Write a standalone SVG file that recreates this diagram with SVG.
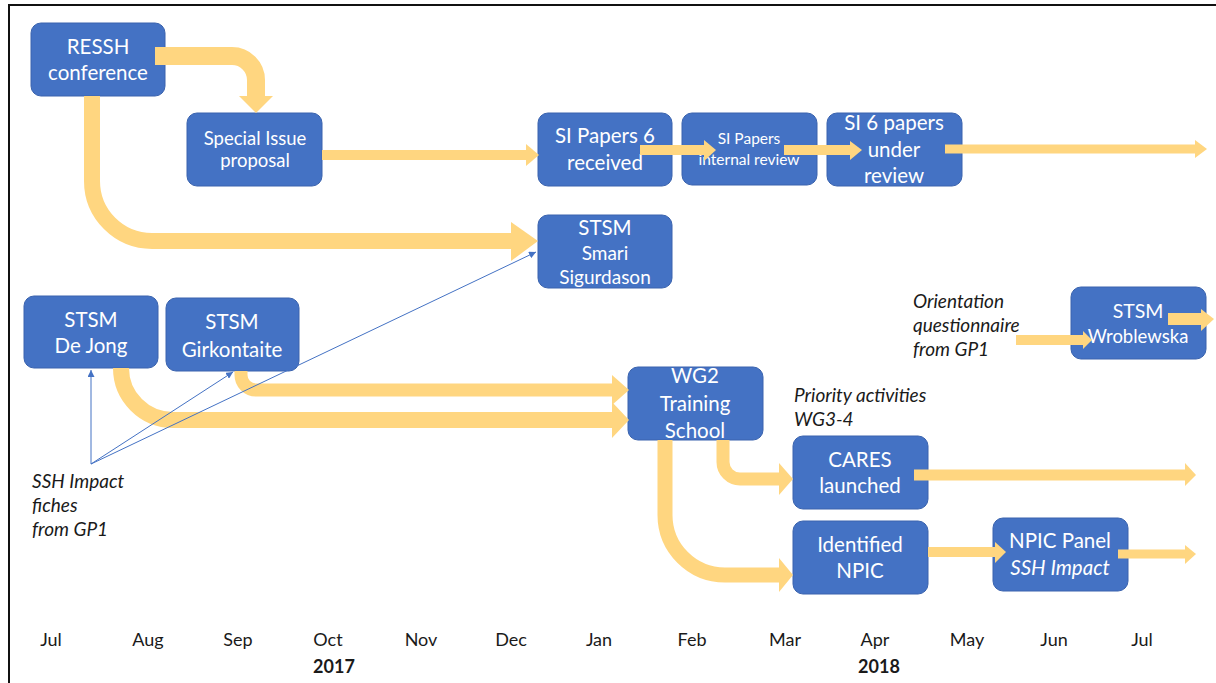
<svg xmlns="http://www.w3.org/2000/svg" width="1216" height="683" viewBox="0 0 1216 683">
<style>
.box{fill:#4472C4;stroke:#3A63AE;stroke-width:1}
.t{font-family:Lato,"Liberation Sans",sans-serif;fill:#fff;text-anchor:middle;font-size:20.5px}
.lab{font-family:Lato,"Liberation Sans",sans-serif;fill:#1a1a1a;font-style:italic;font-size:19px}
.mon{font-family:Lato,"Liberation Sans",sans-serif;fill:#1a1a1a;font-size:18px;text-anchor:middle}
.yr{font-family:Lato,"Liberation Sans",sans-serif;fill:#1a1a1a;font-size:18px;font-weight:bold;text-anchor:middle}
.fat{fill:none;stroke:#FFD680}
.hd{fill:#FFD680}
.thin{fill:none;stroke:#4472C4;stroke-width:1}
</style>
<defs>
<marker id="ah" viewBox="0 0 10 10" refX="10" refY="5" markerWidth="7" markerHeight="7" markerUnits="userSpaceOnUse" orient="auto">
<path d="M0,0 L10,5 L0,10 z" fill="#4472C4"/>
</marker>
</defs>
<rect x="0" y="0" width="1216" height="683" fill="#fff"/>
<g id="frame"><path d="M9,683 V5 H1216" fill="none" stroke="#111" stroke-width="2"/></g>

<g id="n-ressh"><rect class="box" x="31" y="23" width="134" height="73" rx="10"/><text class="t" x="98" y="54">RESSH</text><text class="t" x="98" y="80">conference</text></g>
<g id="n-si-proposal"><rect class="box" x="187" y="113" width="135" height="73" rx="10"/><text class="t" x="255" y="145" style="font-size:18.5px">Special Issue</text><text class="t" x="255" y="167" style="font-size:18.5px">proposal</text></g>
<g id="n-si-received"><rect class="box" x="538" y="113" width="134" height="73" rx="10"/><text class="t" x="605" y="143">SI Papers 6</text><text class="t" x="605" y="170">received</text></g>
<g id="n-si-internal"><rect class="box" x="682" y="113" width="135" height="72" rx="10"/><text class="t" x="749" y="144" style="font-size:15.5px">SI Papers</text><text class="t" x="749" y="165" style="font-size:15.5px">internal review</text></g>
<g id="n-si-under"><rect class="box" x="827" y="113" width="135" height="73" rx="10"/><text class="t" x="894" y="130">SI 6 papers</text><text class="t" x="894" y="157">under</text><text class="t" x="894" y="183">review</text></g>
<g id="n-smari"><rect class="box" x="538" y="215" width="134" height="73" rx="10"/><text class="t" x="605" y="235">STSM</text><text class="t" x="605" y="260" style="font-size:19px">Smari</text><text class="t" x="605" y="284" style="font-size:19px">Sigurdason</text></g>
<g id="n-dejong"><rect class="box" x="24" y="296" width="134" height="72" rx="10"/><text class="t" x="91" y="327">STSM</text><text class="t" x="91" y="353">De Jong</text></g>
<g id="n-girk"><rect class="box" x="166" y="298" width="133" height="73" rx="10"/><text class="t" x="232" y="329">STSM</text><text class="t" x="232" y="357">Girkontaite</text></g>
<g id="n-wg2"><rect class="box" x="628" y="367" width="135" height="73" rx="10"/><text class="t" x="695" y="383">WG2</text><text class="t" x="695" y="411">Training</text><text class="t" x="695" y="438">School</text></g>
<g id="n-wrob"><rect class="box" x="1071" y="287" width="135" height="72" rx="10"/><text class="t" x="1138" y="318" style="font-size:19.5px">STSM</text><text class="t" x="1138" y="343" style="font-size:18.5px">Wroblewska</text></g>
<g id="n-cares"><rect class="box" x="793" y="436" width="135" height="73" rx="10"/><text class="t" x="860" y="467">CARES</text><text class="t" x="860" y="493">launched</text></g>
<g id="n-npic"><rect class="box" x="793" y="521" width="135" height="73" rx="10"/><text class="t" x="860" y="552">Identified</text><text class="t" x="860" y="578">NPIC</text></g>
<g id="n-panel"><rect class="box" x="993" y="518" width="135" height="73" rx="10"/><text class="t" x="1060" y="548">NPIC Panel</text><text class="t" x="1060" y="575" font-style="italic">SSH Impact</text></g>

<g id="labels">
<text class="lab" x="32" y="488">SSH Impact</text><text class="lab" x="32" y="512">fiches</text><text class="lab" x="32" y="536">from GP1</text>
<text class="lab" x="913" y="308">Orientation</text><text class="lab" x="913" y="332">questionnaire</text><text class="lab" x="913" y="356">from GP1</text>
<text class="lab" x="794" y="402">Priority activities</text><text class="lab" x="794" y="426">WG3-4</text>
</g>

<g id="axis">
<text class="mon" x="51" y="646">Jul</text><text class="mon" x="148" y="646">Aug</text><text class="mon" x="238" y="646">Sep</text><text class="mon" x="328" y="646">Oct</text><text class="mon" x="421" y="646">Nov</text><text class="mon" x="511" y="646">Dec</text><text class="mon" x="599" y="646">Jan</text><text class="mon" x="692" y="646">Feb</text><text class="mon" x="785" y="646">Mar</text><text class="mon" x="875" y="646">Apr</text><text class="mon" x="967" y="646">May</text><text class="mon" x="1054" y="646">Jun</text><text class="mon" x="1142" y="646">Jul</text>
<text class="yr" x="334" y="673">2017</text><text class="yr" x="879" y="673">2018</text>
</g>

<g id="connectors">
<path class="fat" stroke-width="18" d="M155,56 H232 A24,24 0 0 1 256,80 V97"/><polygon class="hd" points="239,96 273,96 256,113"/>
<path class="fat" stroke-width="16" d="M92,96 V181 A60,60 0 0 0 152,241 H512"/><polygon class="hd" points="511,222 538,241 511,261"/>
<path class="fat" stroke-width="10" d="M322,155 H527"/><polygon class="hd" points="526,144 539,155 526,166"/>
<path class="fat" stroke-width="10" d="M640,150 H705"/><polygon class="hd" points="704,140 716,150 704,161"/>
<path class="fat" stroke-width="10" d="M784,150 H851"/><polygon class="hd" points="850,141 862,150 850,160"/>
<path class="fat" stroke-width="9" d="M945,149 H1196"/><polygon class="hd" points="1195,140 1207,149 1195,158"/>
<path class="fat" stroke-width="16" d="M121,368 A52,52 0 0 0 173,420 H613"/><polygon class="hd" points="612,402 629,420 612,438"/>
<path class="fat" stroke-width="13" d="M241,371 V375 A15,15 0 0 0 256,390 H613"/><polygon class="hd" points="612,375 629,390 612,405"/>
<path class="fat" stroke-width="13" d="M723,440 V462 A17,17 0 0 0 740,479 H780"/><polygon class="hd" points="779,463 793,479 779,495"/>
<path class="fat" stroke-width="15" d="M665,440 V515 A60,60 0 0 0 725,575 H780"/><polygon class="hd" points="779,558 793,575 779,592"/>
<path class="fat" stroke-width="11" d="M914,475 H1186"/><polygon class="hd" points="1185,463 1196,475 1185,486"/>
<path class="fat" stroke-width="10" d="M928,552 H996"/><polygon class="hd" points="995,542 1006,552 995,563"/>
<path class="fat" stroke-width="9" d="M1118,554 H1186"/><polygon class="hd" points="1185,545 1196,554 1185,564"/>
<path class="fat" stroke-width="10" d="M1016,340 H1084"/><polygon class="hd" points="1083,331 1092,340 1083,349"/>
<path class="fat" stroke-width="12" d="M1168,319 H1202"/><polygon class="hd" points="1201,309 1214,319 1201,331"/>
<path class="thin" d="M91,464 L91,370" marker-end="url(#ah)"/>
<path class="thin" d="M91,464 L233,372" marker-end="url(#ah)"/>
<path class="thin" d="M91,464 L536,252" marker-end="url(#ah)"/>
</g>
</svg>
